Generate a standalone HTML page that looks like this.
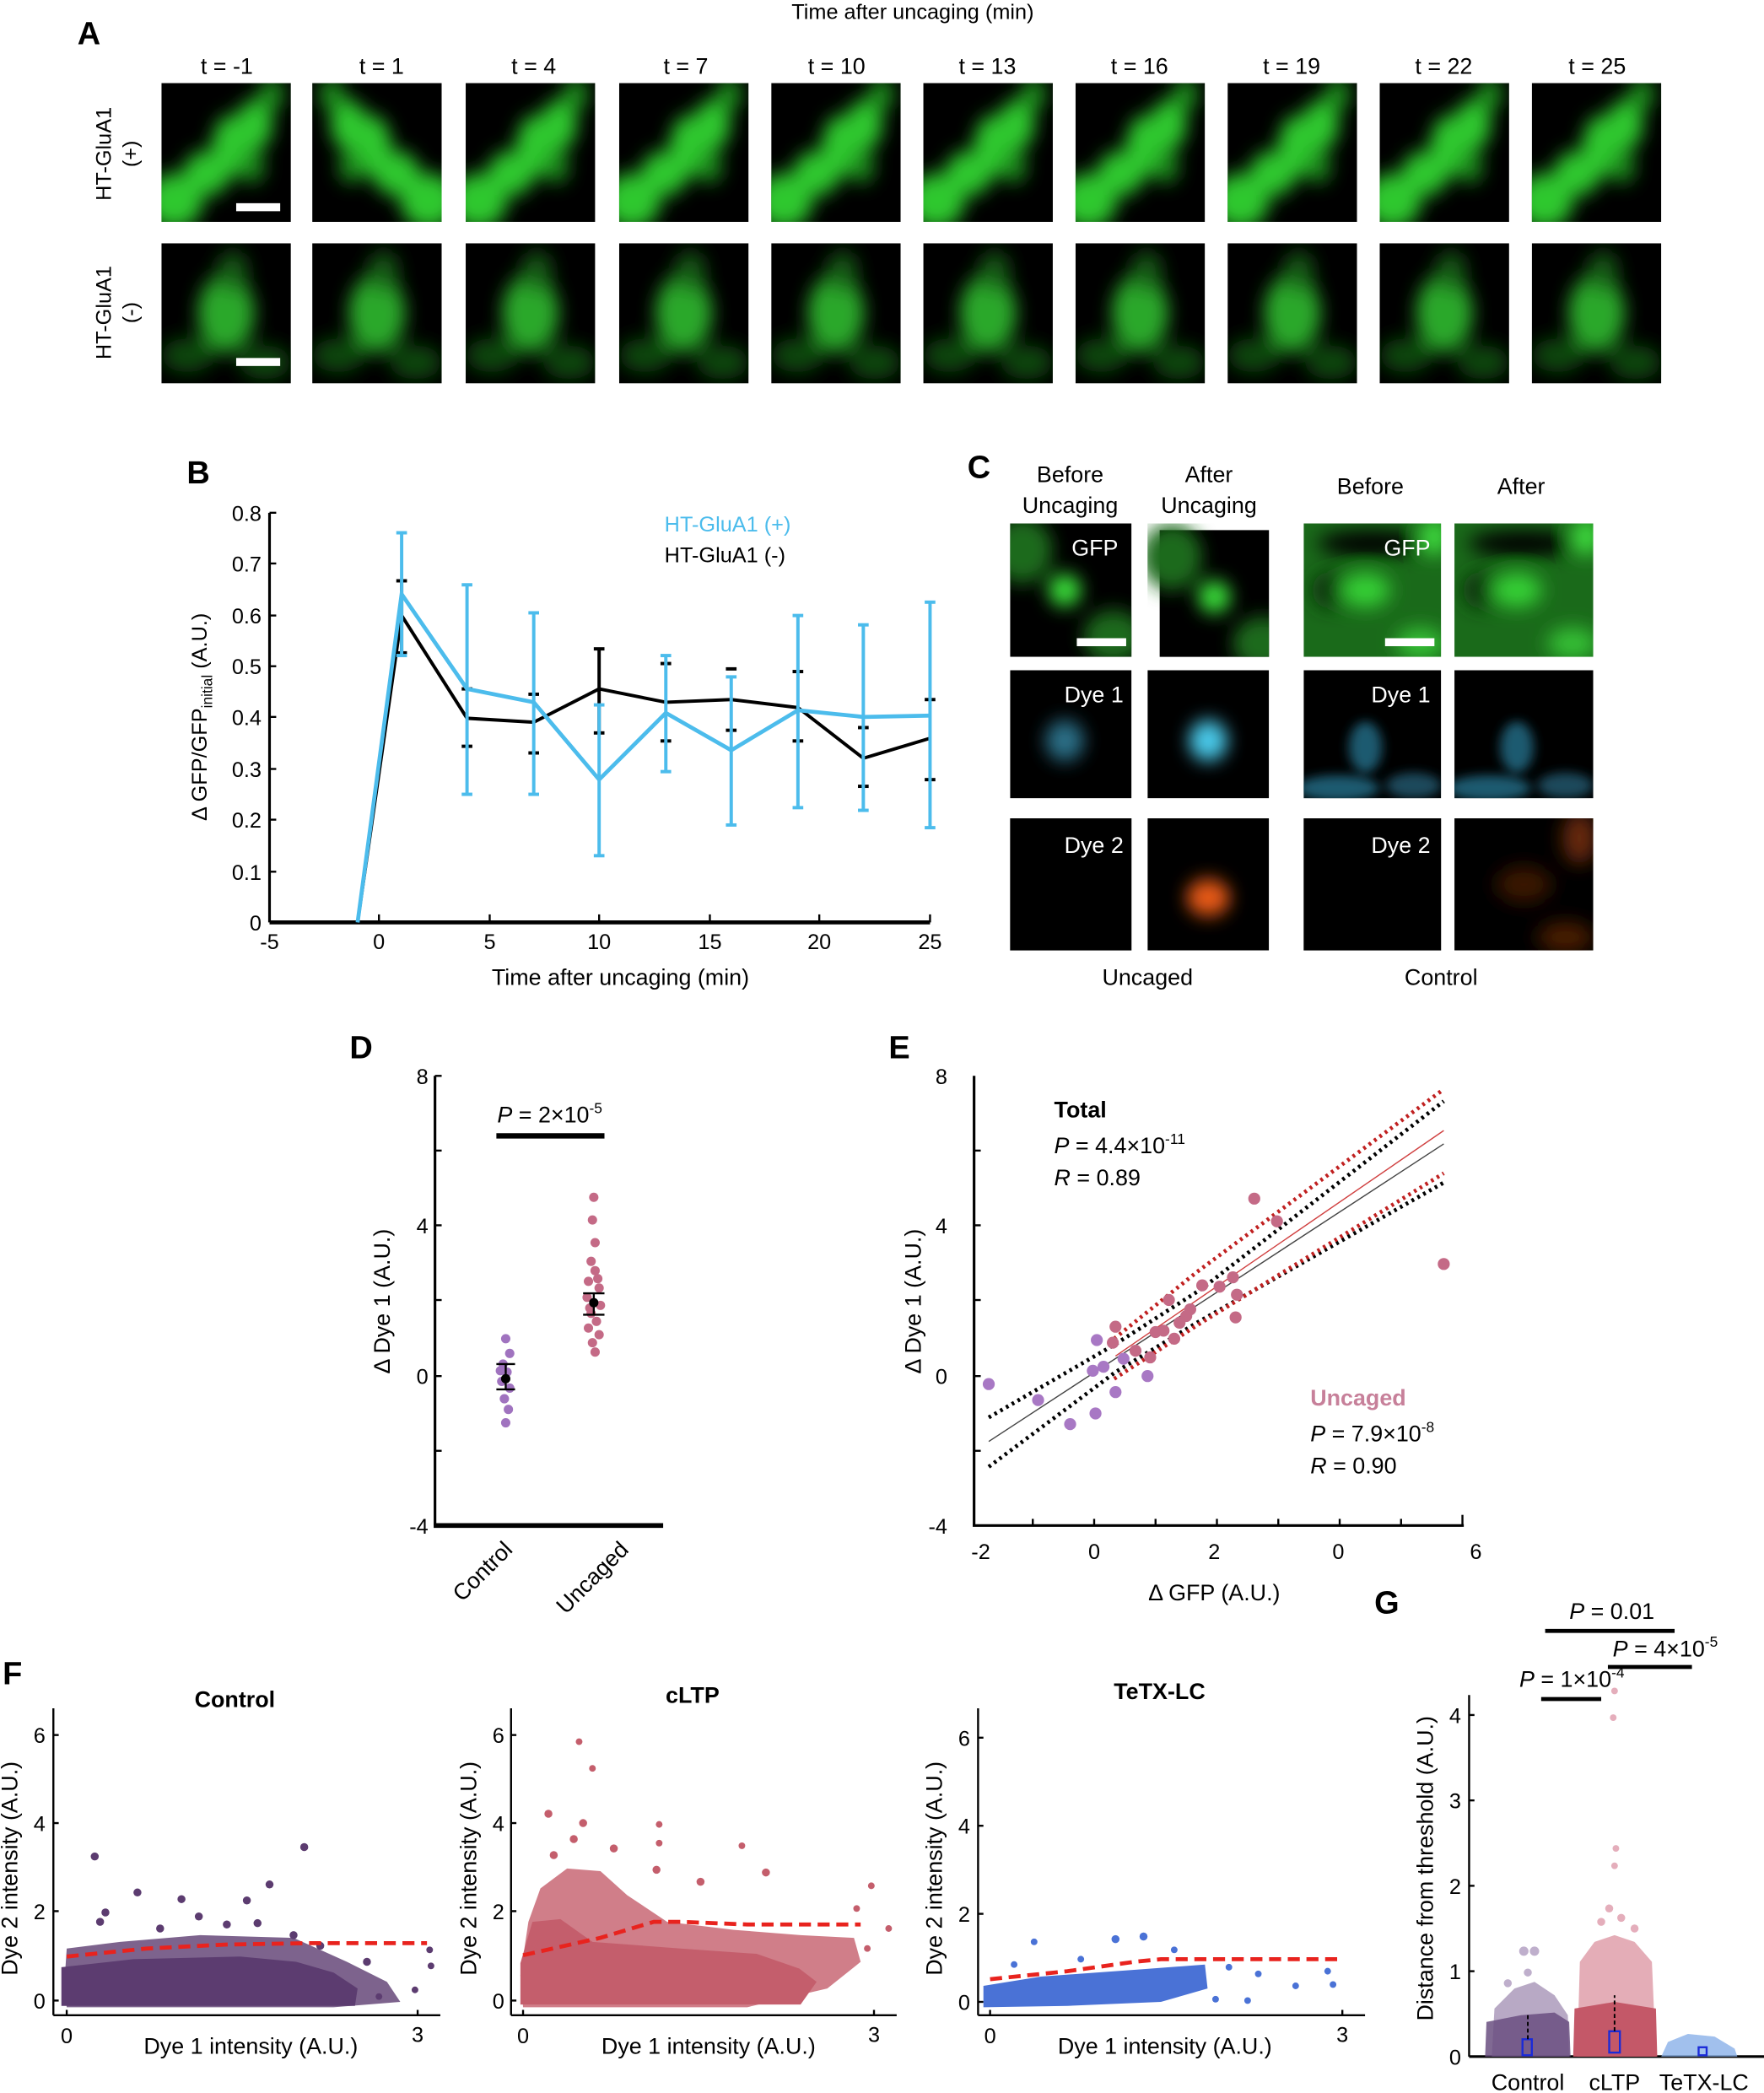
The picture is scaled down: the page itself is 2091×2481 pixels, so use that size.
<!DOCTYPE html>
<html><head><meta charset="utf-8"><style>
html,body{margin:0;padding:0;background:#fff}
svg{display:block}
text{font-family:"Liberation Sans",Arial,sans-serif;fill:#000}
</style></head><body>
<svg width="2091" height="2481" viewBox="0 0 1322 1568" xmlns="http://www.w3.org/2000/svg">
<defs>
<filter id="bl" x="-50%" y="-50%" width="200%" height="200%"><feGaussianBlur stdDeviation="7"/></filter>
<filter id="bl2" x="-50%" y="-50%" width="200%" height="200%"><feGaussianBlur stdDeviation="4"/></filter>
<g id="r1">
<rect width="100" height="100" fill="#000"/>
<g filter="url(#bl)" fill="#2ec82e">
<ellipse cx="10" cy="85" rx="22" ry="20"/><ellipse cx="35" cy="65" rx="18" ry="16"/>
<ellipse cx="55" cy="45" rx="16" ry="22"/><ellipse cx="72" cy="30" rx="14" ry="18"/>
<ellipse cx="85" cy="8" rx="10" ry="12" fill="#1e8a1e"/><ellipse cx="70" cy="60" rx="10" ry="12" fill="#1e8a1e"/>
</g></g>
<g id="r2">
<rect width="100" height="100" fill="#000"/>
<g filter="url(#bl)">
<ellipse cx="50" cy="50" rx="22" ry="28" fill="#2aa82a"/><ellipse cx="20" cy="80" rx="20" ry="12" fill="#0f4a0f"/>
<ellipse cx="80" cy="85" rx="20" ry="12" fill="#0f4a0f"/><ellipse cx="55" cy="20" rx="12" ry="14" fill="#145a14"/>
</g></g>
<g id="gfp"><rect width="100" height="100" fill="#000"/><g filter="url(#bl)">
<ellipse cx="10" cy="20" rx="25" ry="25" fill="#1c6a1c"/><ellipse cx="85" cy="85" rx="25" ry="20" fill="#1c6a1c"/>
<ellipse cx="45" cy="50" rx="14" ry="12" fill="#3be03b"/></g></g>
<g id="gfp2"><rect width="100" height="100" fill="#1a6a1a"/><g filter="url(#bl)">
<ellipse cx="50" cy="15" rx="40" ry="10" fill="#000"/><ellipse cx="20" cy="50" rx="14" ry="14" fill="#0a300a"/>
<ellipse cx="45" cy="50" rx="18" ry="13" fill="#35d035"/><ellipse cx="95" cy="10" rx="10" ry="14" fill="#40e040"/>
<ellipse cx="85" cy="90" rx="18" ry="12" fill="#35c035"/></g></g>
<g id="dye1"><rect width="100" height="100" fill="#000"/><g filter="url(#bl)">
<ellipse cx="45" cy="55" rx="16" ry="16" fill="#2c6e86"/></g></g>
<g id="dye1b"><rect width="100" height="100" fill="#000"/><g filter="url(#bl)">
<ellipse cx="50" cy="55" rx="16" ry="16" fill="#48c8e8"/></g></g>
<g id="dye1c"><rect width="100" height="100" fill="#000"/><g filter="url(#bl2)">
<ellipse cx="45" cy="60" rx="12" ry="20" fill="#1f5a70"/><ellipse cx="25" cy="92" rx="30" ry="10" fill="#1f5a70"/><ellipse cx="80" cy="90" rx="20" ry="10" fill="#1a4a5c"/></g></g>
<g id="dye2b"><rect width="100" height="100" fill="#000"/><g filter="url(#bl)">
<ellipse cx="50" cy="60" rx="18" ry="14" fill="#e85a14"/></g></g>
<g id="dye2c"><rect width="100" height="100" fill="#000"/><g filter="url(#bl)">
<ellipse cx="90" cy="15" rx="12" ry="20" fill="#6a2a08"/><ellipse cx="50" cy="50" rx="20" ry="14" fill="#3a1604"/><ellipse cx="80" cy="90" rx="20" ry="12" fill="#4a1c06"/></g></g>
</defs>

<!-- Panel A -->
<text x="684" y="14" font-size="16" text-anchor="middle">Time after uncaging (min)</text>
<text x="58" y="33" font-size="24" font-weight="bold">A</text>
<g font-size="17" text-anchor="middle">
<text x="170" y="55">t = -1</text><text x="286" y="55">t = 1</text><text x="400" y="55">t = 4</text><text x="514" y="55">t = 7</text><text x="627" y="55">t = 10</text><text x="740" y="55">t = 13</text><text x="854" y="55">t = 16</text><text x="968" y="55">t = 19</text><text x="1082" y="55">t = 22</text><text x="1197" y="55">t = 25</text>
</g>
<g font-size="16" text-anchor="middle">
<text transform="translate(83,115) rotate(-90)">HT-GluA1</text><text transform="translate(103,115) rotate(-90)">(+)</text>
<text transform="translate(83,234) rotate(-90)">HT-GluA1</text><text transform="translate(103,234) rotate(-90)">(-)</text>
</g>
<svg x="121" y="62" width="97" height="104" viewBox="0 0 100 100" preserveAspectRatio="none"><use href="#r1"/></svg>
<svg x="234" y="62" width="97" height="104" viewBox="0 0 100 100" preserveAspectRatio="none"><use href="#r1" transform="translate(100,0) scale(-1,1)"/></svg>
<svg x="349" y="62" width="97" height="104" viewBox="0 0 100 100" preserveAspectRatio="none"><use href="#r1"/></svg>
<svg x="464" y="62" width="97" height="104" viewBox="0 0 100 100" preserveAspectRatio="none"><use href="#r1"/></svg>
<svg x="578" y="62" width="97" height="104" viewBox="0 0 100 100" preserveAspectRatio="none"><use href="#r1"/></svg>
<svg x="692" y="62" width="97" height="104" viewBox="0 0 100 100" preserveAspectRatio="none"><use href="#r1"/></svg>
<svg x="806" y="62" width="97" height="104" viewBox="0 0 100 100" preserveAspectRatio="none"><use href="#r1"/></svg>
<svg x="920" y="62" width="97" height="104" viewBox="0 0 100 100" preserveAspectRatio="none"><use href="#r1"/></svg>
<svg x="1034" y="62" width="97" height="104" viewBox="0 0 100 100" preserveAspectRatio="none"><use href="#r1"/></svg>
<svg x="1148" y="62" width="97" height="104" viewBox="0 0 100 100" preserveAspectRatio="none"><use href="#r1"/></svg>
<rect x="177" y="152" width="33" height="6" fill="#fff"/>
<svg x="121" y="182" width="97" height="105" viewBox="0 0 100 100" preserveAspectRatio="none"><use href="#r2"/></svg>
<svg x="234" y="182" width="97" height="105" viewBox="0 0 100 100" preserveAspectRatio="none"><use href="#r2"/></svg>
<svg x="349" y="182" width="97" height="105" viewBox="0 0 100 100" preserveAspectRatio="none"><use href="#r2"/></svg>
<svg x="464" y="182" width="97" height="105" viewBox="0 0 100 100" preserveAspectRatio="none"><use href="#r2"/></svg>
<svg x="578" y="182" width="97" height="105" viewBox="0 0 100 100" preserveAspectRatio="none"><use href="#r2"/></svg>
<svg x="692" y="182" width="97" height="105" viewBox="0 0 100 100" preserveAspectRatio="none"><use href="#r2"/></svg>
<svg x="806" y="182" width="97" height="105" viewBox="0 0 100 100" preserveAspectRatio="none"><use href="#r2"/></svg>
<svg x="920" y="182" width="97" height="105" viewBox="0 0 100 100" preserveAspectRatio="none"><use href="#r2"/></svg>
<svg x="1034" y="182" width="97" height="105" viewBox="0 0 100 100" preserveAspectRatio="none"><use href="#r2"/></svg>
<svg x="1148" y="182" width="97" height="105" viewBox="0 0 100 100" preserveAspectRatio="none"><use href="#r2"/></svg>
<rect x="177" y="268" width="33" height="6" fill="#fff"/>

<!-- Panel B -->
<text x="140" y="362" font-size="24" font-weight="bold">B</text>
<g stroke="#000" stroke-width="2" fill="none">
<line x1="202" y1="384" x2="202" y2="691"/><line x1="202" y1="691" x2="697" y2="691" stroke-width="3"/>
</g>
<g stroke="#000" stroke-width="1.5">
<line x1="202" y1="653" x2="207" y2="653"/><line x1="202" y1="614" x2="207" y2="614"/><line x1="202" y1="576" x2="207" y2="576"/><line x1="202" y1="537" x2="207" y2="537"/><line x1="202" y1="499" x2="207" y2="499"/><line x1="202" y1="461" x2="207" y2="461"/><line x1="202" y1="422" x2="207" y2="422"/><line x1="202" y1="384" x2="207" y2="384"/>
<line x1="284" y1="691" x2="284" y2="685"/><line x1="367" y1="691" x2="367" y2="685"/><line x1="449" y1="691" x2="449" y2="685"/><line x1="532" y1="691" x2="532" y2="685"/><line x1="614" y1="691" x2="614" y2="685"/><line x1="697" y1="691" x2="697" y2="685"/>
</g>
<g font-size="16" text-anchor="end">
<text x="196" y="697">0</text><text x="196" y="659">0.1</text><text x="196" y="620">0.2</text><text x="196" y="582">0.3</text><text x="196" y="543">0.4</text><text x="196" y="505">0.5</text><text x="196" y="467">0.6</text><text x="196" y="428">0.7</text><text x="196" y="390">0.8</text>
</g>
<g font-size="16" text-anchor="middle">
<text x="202" y="711">-5</text><text x="284" y="711">0</text><text x="367" y="711">5</text><text x="449" y="711">10</text><text x="532" y="711">15</text><text x="614" y="711">20</text><text x="697" y="711">25</text>
<text x="465" y="738" font-size="17">Time after uncaging (min)</text>
</g>
<text transform="translate(155,537) rotate(-90)" font-size="16" text-anchor="middle">Δ GFP/GFP<tspan font-size="11" dy="4">initial</tspan><tspan dy="-4"> (A.U.)</tspan></text>
<polyline fill="none" stroke="#000" stroke-width="2.5" points="268,691 301,461 350,538 400,541 449,516 499,526 548,524 598,530 647,568 697,553"/>
<g stroke="#000" stroke-width="2.5">
<line x1="301" y1="489" x2="301" y2="435"/><line x1="297" y1="489" x2="305" y2="489"/><line x1="297" y1="435" x2="305" y2="435"/>
<line x1="346" y1="559" x2="354" y2="559"/><line x1="346" y1="516" x2="354" y2="516"/>
<line x1="396" y1="564" x2="404" y2="564"/><line x1="396" y1="520" x2="404" y2="520"/>
<line x1="449" y1="549" x2="449" y2="486"/><line x1="445" y1="549" x2="453" y2="549"/><line x1="445" y1="486" x2="453" y2="486"/>
<line x1="495" y1="555" x2="503" y2="555"/><line x1="495" y1="497" x2="503" y2="497"/>
<line x1="544" y1="547" x2="552" y2="547"/><line x1="544" y1="501" x2="552" y2="501"/>
<line x1="594" y1="555" x2="602" y2="555"/><line x1="594" y1="503" x2="602" y2="503"/>
<line x1="643" y1="589" x2="651" y2="589"/><line x1="643" y1="545" x2="651" y2="545"/>
<line x1="693" y1="584" x2="701" y2="584"/><line x1="693" y1="524" x2="701" y2="524"/>
</g>
<g stroke="#4cbcec" stroke-width="2.5" fill="none">
<polyline stroke-width="3" points="268,691 301,445 350,516 400,526 449,584 499,534 548,562 598,532 647,537 697,536"/>
<line x1="301" y1="491" x2="301" y2="399"/><line x1="297" y1="491" x2="305" y2="491"/><line x1="297" y1="399" x2="305" y2="399"/>
<line x1="350" y1="595" x2="350" y2="438"/><line x1="346" y1="595" x2="354" y2="595"/><line x1="346" y1="438" x2="354" y2="438"/>
<line x1="400" y1="595" x2="400" y2="459"/><line x1="396" y1="595" x2="404" y2="595"/><line x1="396" y1="459" x2="404" y2="459"/>
<line x1="449" y1="641" x2="449" y2="528"/><line x1="445" y1="641" x2="453" y2="641"/><line x1="445" y1="528" x2="453" y2="528"/>
<line x1="499" y1="578" x2="499" y2="491"/><line x1="495" y1="578" x2="503" y2="578"/><line x1="495" y1="491" x2="503" y2="491"/>
<line x1="548" y1="618" x2="548" y2="507"/><line x1="544" y1="618" x2="552" y2="618"/><line x1="544" y1="507" x2="552" y2="507"/>
<line x1="598" y1="605" x2="598" y2="461"/><line x1="594" y1="605" x2="602" y2="605"/><line x1="594" y1="461" x2="602" y2="461"/>
<line x1="647" y1="607" x2="647" y2="468"/><line x1="643" y1="607" x2="651" y2="607"/><line x1="643" y1="468" x2="651" y2="468"/>
<line x1="697" y1="620" x2="697" y2="451"/><line x1="693" y1="620" x2="701" y2="620"/><line x1="693" y1="451" x2="701" y2="451"/>
</g>
<text x="498" y="398" font-size="16" style="fill:#4cbcec">HT-GluA1 (+)</text>
<text x="498" y="421" font-size="16">HT-GluA1 (-)</text>

<!-- Panel C -->
<text x="725" y="358" font-size="24" font-weight="bold">C</text>
<g font-size="17" text-anchor="middle">
<text x="802" y="361">Before</text><text x="802" y="384">Uncaging</text>
<text x="906" y="361">After</text><text x="906" y="384">Uncaging</text>
<text x="1027" y="370">Before</text><text x="1140" y="370">After</text>
<text x="860" y="738">Uncaged</text><text x="1080" y="738">Control</text>
</g>
<svg x="757" y="392" width="91" height="100" viewBox="0 0 100 100" preserveAspectRatio="none"><use href="#gfp"/></svg>
<svg x="860" y="392" width="91" height="100" viewBox="0 0 100 100" preserveAspectRatio="none"><use href="#gfp" transform="translate(10,5)"/></svg>
<svg x="977" y="392" width="103" height="100" viewBox="0 0 100 100" preserveAspectRatio="none"><use href="#gfp2"/></svg>
<svg x="1090" y="392" width="104" height="100" viewBox="0 0 100 100" preserveAspectRatio="none"><use href="#gfp2"/></svg>
<svg x="757" y="502" width="91" height="96" viewBox="0 0 100 100" preserveAspectRatio="none"><use href="#dye1"/></svg>
<svg x="860" y="502" width="91" height="96" viewBox="0 0 100 100" preserveAspectRatio="none"><use href="#dye1b"/></svg>
<svg x="977" y="502" width="103" height="96" viewBox="0 0 100 100" preserveAspectRatio="none"><use href="#dye1c"/></svg>
<svg x="1090" y="502" width="104" height="96" viewBox="0 0 100 100" preserveAspectRatio="none"><use href="#dye1c"/></svg>
<rect x="757" y="613" width="91" height="99" fill="#000"/>
<svg x="860" y="613" width="91" height="99" viewBox="0 0 100 100" preserveAspectRatio="none"><use href="#dye2b"/></svg>
<rect x="977" y="613" width="103" height="99" fill="#000"/>
<svg x="1090" y="613" width="104" height="99" viewBox="0 0 100 100" preserveAspectRatio="none"><use href="#dye2c"/></svg>
<g font-size="17" text-anchor="end">
<text x="838" y="416" style="fill:#fff">GFP</text><text x="1072" y="416" style="fill:#fff">GFP</text>
<text x="842" y="526" style="fill:#fff">Dye 1</text><text x="1072" y="526" style="fill:#fff">Dye 1</text>
<text x="842" y="639" style="fill:#fff">Dye 2</text><text x="1072" y="639" style="fill:#fff">Dye 2</text>
</g>
<rect x="807" y="478" width="37" height="6" fill="#fff"/><rect x="1038" y="478" width="37" height="6" fill="#fff"/>

<!-- Panel D -->
<text x="262" y="793" font-size="24" font-weight="bold">D</text>
<g stroke="#000">
<line x1="326" y1="806" x2="326" y2="1143" stroke-width="2"/><line x1="325" y1="1143" x2="497" y2="1143" stroke-width="3.5"/>
<line x1="326" y1="862" x2="331" y2="862" stroke-width="1.5"/><line x1="326" y1="918" x2="331" y2="918" stroke-width="1.5"/><line x1="326" y1="974" x2="331" y2="974" stroke-width="1.5"/><line x1="326" y1="1031" x2="331" y2="1031" stroke-width="1.5"/><line x1="326" y1="1087" x2="331" y2="1087" stroke-width="1.5"/><line x1="326" y1="806" x2="331" y2="806" stroke-width="1.5"/>
<line x1="372" y1="851" x2="453" y2="851" stroke-width="4"/>
</g>
<g font-size="16" text-anchor="end"><text x="321" y="812">8</text><text x="321" y="924">4</text><text x="321" y="1037">0</text><text x="321" y="1149">-4</text></g>
<text x="412" y="841" font-size="17" text-anchor="middle"><tspan font-style="italic">P</tspan> = 2×10<tspan font-size="11" dy="-7">-5</tspan></text>
<text transform="translate(292,975) rotate(-90)" font-size="17" text-anchor="middle">Δ Dye 1 (A.U.)</text>
<text transform="translate(385,1162) rotate(-45)" font-size="17" text-anchor="end">Control</text>
<text transform="translate(472,1162) rotate(-45)" font-size="17" text-anchor="end">Uncaged</text>
<g fill="#a073bf">
<circle cx="379" cy="1003" r="3.5"/><circle cx="382" cy="1014" r="3.5"/><circle cx="377" cy="1022" r="3.5"/><circle cx="380" cy="1028" r="3.5"/><circle cx="376" cy="1035" r="3.5"/><circle cx="382" cy="1040" r="3.5"/><circle cx="378" cy="1048" r="3.5"/><circle cx="381" cy="1056" r="3.5"/><circle cx="379" cy="1066" r="3.5"/><circle cx="375" cy="1027" r="3.5"/>
</g>
<g fill="#c46a86">
<circle cx="445" cy="897" r="3.5"/><circle cx="444" cy="914" r="3.5"/><circle cx="446" cy="931" r="3.5"/><circle cx="443" cy="945" r="3.5"/><circle cx="446" cy="952" r="3.5"/><circle cx="441" cy="960" r="3.5"/><circle cx="449" cy="965" r="3.5"/><circle cx="440" cy="972" r="3.5"/><circle cx="450" cy="978" r="3.5"/><circle cx="443" cy="984" r="3.5"/><circle cx="447" cy="990" r="3.5"/><circle cx="441" cy="995" r="3.5"/><circle cx="449" cy="1000" r="3.5"/><circle cx="444" cy="1006" r="3.5"/><circle cx="446" cy="1013" r="3.5"/><circle cx="442" cy="980" r="3.5"/><circle cx="448" cy="958" r="3.5"/>
</g>
<g stroke="#000" stroke-width="1.5"><line x1="379" y1="1022" x2="379" y2="1041"/><line x1="372" y1="1022" x2="386" y2="1022"/><line x1="372" y1="1041" x2="386" y2="1041"/>
<line x1="445" y1="969" x2="445" y2="985"/><line x1="437" y1="969" x2="453" y2="969"/><line x1="437" y1="985" x2="453" y2="985"/></g>
<circle cx="379" cy="1033" r="3.5" fill="#000"/><circle cx="445" cy="976" r="3.5" fill="#000"/>

<!-- Panel E -->
<text x="666" y="793" font-size="24" font-weight="bold">E</text>
<g stroke="#000">
<line x1="730" y1="806" x2="730" y2="1143" stroke-width="2"/><line x1="729" y1="1143" x2="1097" y2="1143" stroke-width="2"/>
<line x1="730" y1="862" x2="735" y2="862" stroke-width="1.5"/><line x1="730" y1="918" x2="735" y2="918" stroke-width="1.5"/><line x1="730" y1="974" x2="735" y2="974" stroke-width="1.5"/><line x1="730" y1="1031" x2="735" y2="1031" stroke-width="1.5"/><line x1="730" y1="1087" x2="735" y2="1087" stroke-width="1.5"/>
<line x1="774" y1="1143" x2="774" y2="1138" stroke-width="1.5"/><line x1="820" y1="1143" x2="820" y2="1138" stroke-width="1.5"/><line x1="866" y1="1143" x2="866" y2="1138" stroke-width="1.5"/><line x1="912" y1="1143" x2="912" y2="1138" stroke-width="1.5"/><line x1="958" y1="1143" x2="958" y2="1138" stroke-width="1.5"/><line x1="1004" y1="1143" x2="1004" y2="1138" stroke-width="1.5"/><line x1="1050" y1="1143" x2="1050" y2="1138" stroke-width="1.5"/><line x1="1096" y1="1143" x2="1096" y2="1135" stroke-width="1.5"/>
</g>
<g font-size="16" text-anchor="end"><text x="710" y="812">8</text><text x="710" y="924">4</text><text x="710" y="1037">0</text><text x="710" y="1149">-4</text></g>
<g font-size="16" text-anchor="middle"><text x="735" y="1168">-2</text><text x="820" y="1168">0</text><text x="910" y="1168">2</text><text x="1003" y="1168">0</text><text x="1106" y="1168">6</text></g>
<text x="910" y="1199" font-size="17" text-anchor="middle">Δ GFP (A.U.)</text>
<text transform="translate(690,975) rotate(-90)" font-size="17" text-anchor="middle">Δ Dye 1 (A.U.)</text>
<g fill="none">
<line x1="741" y1="1080" x2="1082" y2="857" stroke="#444" stroke-width="0.9"/>
<line x1="836" y1="1016" x2="1082" y2="847" stroke="#d04040" stroke-width="0.9"/>
<polyline points="741,1062 836,1007 900,966 1082,825" stroke="#000" stroke-width="3" stroke-dasharray="2,3"/>
<polyline points="741,1099 836,1028 897,991 1082,886" stroke="#000" stroke-width="3" stroke-dasharray="2,3"/>
<polyline points="835,1003 897,953 1082,816" stroke="#c02020" stroke-width="3" stroke-dasharray="2,3"/>
<polyline points="835,1033 897,993 1082,879" stroke="#c02020" stroke-width="3" stroke-dasharray="2,3"/>
</g>
<g fill="#a878c4">
<circle cx="741" cy="1037" r="4.5"/><circle cx="778" cy="1049" r="4.5"/><circle cx="802" cy="1067" r="4.5"/><circle cx="822" cy="1004" r="4.5"/><circle cx="819" cy="1027" r="4.5"/><circle cx="827" cy="1024" r="4.5"/><circle cx="821" cy="1059" r="4.5"/><circle cx="836" cy="1043" r="4.5"/><circle cx="842" cy="1018" r="4.5"/><circle cx="860" cy="1031" r="4.5"/>
</g>
<g fill="#c46a86">
<circle cx="836" cy="994" r="4.5"/><circle cx="834" cy="1006" r="4.5"/><circle cx="851" cy="1012" r="4.5"/><circle cx="862" cy="1017" r="4.5"/><circle cx="866" cy="998" r="4.5"/><circle cx="872" cy="997" r="4.5"/><circle cx="880" cy="1003" r="4.5"/><circle cx="884" cy="991" r="4.5"/><circle cx="876" cy="974" r="4.5"/><circle cx="892" cy="981" r="4.5"/><circle cx="889" cy="986" r="4.5"/><circle cx="901" cy="963" r="4.5"/><circle cx="914" cy="964" r="4.5"/><circle cx="924" cy="957" r="4.5"/><circle cx="927" cy="970" r="4.5"/><circle cx="926" cy="987" r="4.5"/><circle cx="940" cy="898" r="4.5"/><circle cx="957" cy="915" r="4.5"/><circle cx="1082" cy="947" r="4.5"/>
</g>
<text x="790" y="837" font-size="17" font-weight="bold">Total</text>
<text x="790" y="864" font-size="17"><tspan font-style="italic">P</tspan> = 4.4×10<tspan font-size="11" dy="-7">-11</tspan></text>
<text x="790" y="888" font-size="17"><tspan font-style="italic">R</tspan> = 0.89</text>
<text x="982" y="1053" font-size="17" font-weight="bold" style="fill:#c7809a">Uncaged</text>
<text x="982" y="1080" font-size="17"><tspan font-style="italic">P</tspan> = 7.9×10<tspan font-size="11" dy="-7">-8</tspan></text>
<text x="982" y="1104" font-size="17"><tspan font-style="italic">R</tspan> = 0.90</text>

<!-- Panel F -->
<text x="2" y="1262" font-size="24" font-weight="bold">F</text>
<text x="176" y="1279" font-size="17" font-weight="bold" text-anchor="middle">Control</text>
<g stroke="#000" stroke-width="1.5"><line x1="40" y1="1280" x2="40" y2="1510"/><line x1="40" y1="1510" x2="330" y2="1510"/>
<line x1="40" y1="1300" x2="44" y2="1300"/><line x1="40" y1="1366" x2="44" y2="1366"/><line x1="40" y1="1432" x2="44" y2="1432"/><line x1="40" y1="1499" x2="44" y2="1499"/><line x1="50" y1="1510" x2="50" y2="1506"/><line x1="313" y1="1510" x2="313" y2="1506"/></g>
<g font-size="16" text-anchor="end"><text x="34" y="1306">6</text><text x="34" y="1372">4</text><text x="34" y="1438">2</text><text x="34" y="1505">0</text></g>
<text x="50" y="1531" font-size="16" text-anchor="middle">0</text><text x="313" y="1530" font-size="16" text-anchor="middle">3</text>
<text x="188" y="1539" font-size="17" text-anchor="middle">Dye 1 intensity (A.U.)</text>
<text transform="translate(13,1400) rotate(-90)" font-size="17" text-anchor="middle">Dye 2 intensity (A.U.)</text>
<path d="M48,1490 L50,1460 L90,1455 L150,1450 L220,1452 L260,1470 L290,1485 L300,1500 L250,1504 L50,1504 Z" fill="#5c3c70" opacity="0.8"/>
<path d="M46,1503 L46,1474 L100,1468 L180,1466 L222,1470 L250,1478 L268,1490 L266,1503 Z" fill="#5c3c70"/>
<g fill="#5c3c70">
<circle cx="71" cy="1391" r="3"/><circle cx="103" cy="1418" r="3"/><circle cx="228" cy="1384" r="3"/><circle cx="202" cy="1412" r="3"/><circle cx="136" cy="1423" r="3"/><circle cx="185" cy="1424" r="3"/><circle cx="322" cy="1461" r="2.5"/><circle cx="323" cy="1473" r="2.5"/><circle cx="311" cy="1491" r="2.5"/><circle cx="284" cy="1496" r="2.5"/><circle cx="79" cy="1433" r="3"/><circle cx="149" cy="1436" r="3"/><circle cx="193" cy="1441" r="3"/><circle cx="220" cy="1450" r="3"/><circle cx="75" cy="1440" r="3"/><circle cx="120" cy="1445" r="3"/><circle cx="170" cy="1442" r="3"/><circle cx="240" cy="1458" r="3"/><circle cx="275" cy="1470" r="3"/>
</g>
<polyline points="50,1466 110,1460 170,1457 230,1456 320,1456" fill="none" stroke="#e8231e" stroke-width="3" stroke-dasharray="9,5"/>

<text x="519" y="1276" font-size="17" font-weight="bold" text-anchor="middle">cLTP</text>
<g stroke="#000" stroke-width="1.5"><line x1="383" y1="1280" x2="383" y2="1510"/><line x1="383" y1="1510" x2="672" y2="1510"/>
<line x1="383" y1="1300" x2="387" y2="1300"/><line x1="383" y1="1366" x2="387" y2="1366"/><line x1="383" y1="1432" x2="387" y2="1432"/><line x1="383" y1="1499" x2="387" y2="1499"/><line x1="392" y1="1510" x2="392" y2="1506"/><line x1="655" y1="1510" x2="655" y2="1506"/></g>
<g font-size="16" text-anchor="end"><text x="378" y="1306">6</text><text x="378" y="1372">4</text><text x="378" y="1438">2</text><text x="378" y="1505">0</text></g>
<text x="392" y="1531" font-size="16" text-anchor="middle">0</text><text x="655" y="1530" font-size="16" text-anchor="middle">3</text>
<text x="531" y="1539" font-size="17" text-anchor="middle">Dye 1 intensity (A.U.)</text>
<text transform="translate(357,1400) rotate(-90)" font-size="17" text-anchor="middle">Dye 2 intensity (A.U.)</text>
<path d="M390,1480 L396,1440 L405,1415 L425,1400 L450,1402 L470,1420 L500,1440 L550,1446 L600,1450 L640,1452 L645,1470 L620,1490 L560,1504 L392,1504 Z" fill="#c45e6c" opacity="0.8"/>
<path d="M390,1502 L390,1471 L399,1440 L420,1438 L444,1455 L510,1460 L567,1464 L599,1475 L612,1485 L600,1502 Z" fill="#c45e6c"/>
<g fill="#c45e6c">
<circle cx="434" cy="1305" r="2.5"/><circle cx="444" cy="1325" r="2.5"/><circle cx="411" cy="1359" r="3"/><circle cx="437" cy="1366" r="3"/><circle cx="494" cy="1367" r="2.5"/><circle cx="494" cy="1381" r="2.5"/><circle cx="556" cy="1383" r="2.5"/><circle cx="653" cy="1413" r="2.5"/><circle cx="574" cy="1403" r="3"/><circle cx="525" cy="1410" r="3"/><circle cx="642" cy="1430" r="2.5"/><circle cx="666" cy="1445" r="2.5"/><circle cx="492" cy="1401" r="3"/><circle cx="415" cy="1390" r="3"/><circle cx="460" cy="1385" r="3"/><circle cx="430" cy="1378" r="3"/><circle cx="650" cy="1460" r="2.5"/>
</g>
<polyline points="392,1465 450,1452 490,1440 510,1440 560,1442 645,1442" fill="none" stroke="#e8231e" stroke-width="3" stroke-dasharray="9,5"/>

<text x="869" y="1273" font-size="17" font-weight="bold" text-anchor="middle">TeTX-LC</text>
<g stroke="#000" stroke-width="1.5"><line x1="733" y1="1280" x2="733" y2="1510"/><line x1="733" y1="1510" x2="1023" y2="1510"/>
<line x1="733" y1="1302" x2="737" y2="1302"/><line x1="733" y1="1368" x2="737" y2="1368"/><line x1="733" y1="1434" x2="737" y2="1434"/><line x1="733" y1="1500" x2="737" y2="1500"/><line x1="742" y1="1510" x2="742" y2="1506"/><line x1="1006" y1="1510" x2="1006" y2="1506"/></g>
<g font-size="16" text-anchor="end"><text x="727" y="1308">6</text><text x="727" y="1374">4</text><text x="727" y="1440">2</text><text x="727" y="1506">0</text></g>
<text x="742" y="1531" font-size="16" text-anchor="middle">0</text><text x="1006" y="1530" font-size="16" text-anchor="middle">3</text>
<text x="873" y="1539" font-size="17" text-anchor="middle">Dye 1 intensity (A.U.)</text>
<text transform="translate(706,1400) rotate(-90)" font-size="17" text-anchor="middle">Dye 2 intensity (A.U.)</text>
<path d="M737,1504 L737,1488 L780,1481 L850,1476 L903,1472 L905,1490 L870,1500 L800,1503 Z" fill="#4a72d6"/>
<g fill="#4a72d6">
<circle cx="775" cy="1455" r="2.5"/><circle cx="836" cy="1453" r="3"/><circle cx="857" cy="1451" r="3"/><circle cx="880" cy="1461" r="2.5"/><circle cx="921" cy="1474" r="2.5"/><circle cx="943" cy="1479" r="2.5"/><circle cx="995" cy="1477" r="2.5"/><circle cx="999" cy="1487" r="2.5"/><circle cx="971" cy="1488" r="2.5"/><circle cx="935" cy="1499" r="2.5"/><circle cx="911" cy="1498" r="2.5"/><circle cx="760" cy="1472" r="2.5"/><circle cx="810" cy="1468" r="2.5"/>
</g>
<polyline points="742,1483 800,1477 850,1470 870,1468 1005,1468" fill="none" stroke="#e8231e" stroke-width="3" stroke-dasharray="9,5"/>

<!-- Panel G -->
<text x="1030" y="1209" font-size="24" font-weight="bold">G</text>
<g stroke="#000" stroke-width="1.5"><line x1="1101" y1="1270" x2="1101" y2="1541"/><line x1="1101" y1="1541" x2="1322" y2="1541" stroke-width="2"/>
<line x1="1101" y1="1285" x2="1105" y2="1285"/><line x1="1101" y1="1349" x2="1105" y2="1349"/><line x1="1101" y1="1413" x2="1105" y2="1413"/><line x1="1101" y1="1477" x2="1105" y2="1477"/></g>
<g font-size="16" text-anchor="end"><text x="1095" y="1291">4</text><text x="1095" y="1355">3</text><text x="1095" y="1419">2</text><text x="1095" y="1483">1</text><text x="1095" y="1547">0</text></g>
<text transform="translate(1074,1400) rotate(-90)" font-size="17" text-anchor="middle">Distance from threshold (A.U.)</text>
<g font-size="17" text-anchor="middle"><text x="1145" y="1566">Control</text><text x="1210" y="1566">cLTP</text><text x="1277" y="1566">TeTX-LC</text></g>
<path d="M1118,1541 L1120,1505 L1135,1490 L1150,1485 L1165,1495 L1175,1510 L1176,1541 Z" fill="#9a84ac" opacity="0.7"/>
<path d="M1113,1541 L1114,1515 L1140,1510 L1165,1508 L1176,1515 L1177,1541 Z" fill="#6a4f80" opacity="0.85"/>
<path d="M1182,1541 L1184,1470 L1195,1455 L1210,1450 L1225,1455 L1238,1470 L1241,1541 Z" fill="#d88a98" opacity="0.7"/>
<path d="M1179,1541 L1180,1505 L1210,1500 L1241,1505 L1242,1541 Z" fill="#c45868"/>
<path d="M1245,1541 L1250,1530 L1265,1524 L1285,1526 L1300,1535 L1302,1541 Z" fill="#8ab0e8" opacity="0.8"/>
<g fill="#b09cc0" opacity="0.8"><circle cx="1142" cy="1462" r="3.5"/><circle cx="1150" cy="1462" r="3.5"/><circle cx="1145" cy="1478" r="3"/><circle cx="1130" cy="1486" r="3"/></g>
<g fill="#e0a0b0" opacity="0.85"><circle cx="1210" cy="1267" r="2.5"/><circle cx="1209" cy="1287" r="2.5"/><circle cx="1211" cy="1385" r="2.5"/><circle cx="1210" cy="1398" r="2.5"/><circle cx="1206" cy="1430" r="3"/><circle cx="1200" cy="1440" r="3"/><circle cx="1215" cy="1437" r="3"/><circle cx="1225" cy="1445" r="3"/></g>
<g fill="none" stroke="#1a2ad8" stroke-width="1.5"><rect x="1141" y="1528" width="7" height="12"/><rect x="1206" y="1522" width="8" height="16"/><rect x="1273" y="1534" width="6" height="6"/></g>
<g stroke="#000" stroke-width="1.2" stroke-dasharray="3,2"><line x1="1145" y1="1528" x2="1145" y2="1510"/><line x1="1210" y1="1522" x2="1210" y2="1495"/></g>
<g stroke="#000" stroke-width="3"><line x1="1158" y1="1222" x2="1255" y2="1222"/><line x1="1205" y1="1249" x2="1268" y2="1249"/><line x1="1155" y1="1273" x2="1200" y2="1273"/></g>
<text x="1208" y="1213" font-size="17" text-anchor="middle"><tspan font-style="italic">P</tspan> = 0.01</text>
<text x="1248" y="1241" font-size="17" text-anchor="middle"><tspan font-style="italic">P</tspan> = 4×10<tspan font-size="11" dy="-7">-5</tspan></text>
<text x="1178" y="1264" font-size="17" text-anchor="middle"><tspan font-style="italic">P</tspan> = 1×10<tspan font-size="11" dy="-7">-4</tspan></text>
</svg>
</body></html>
